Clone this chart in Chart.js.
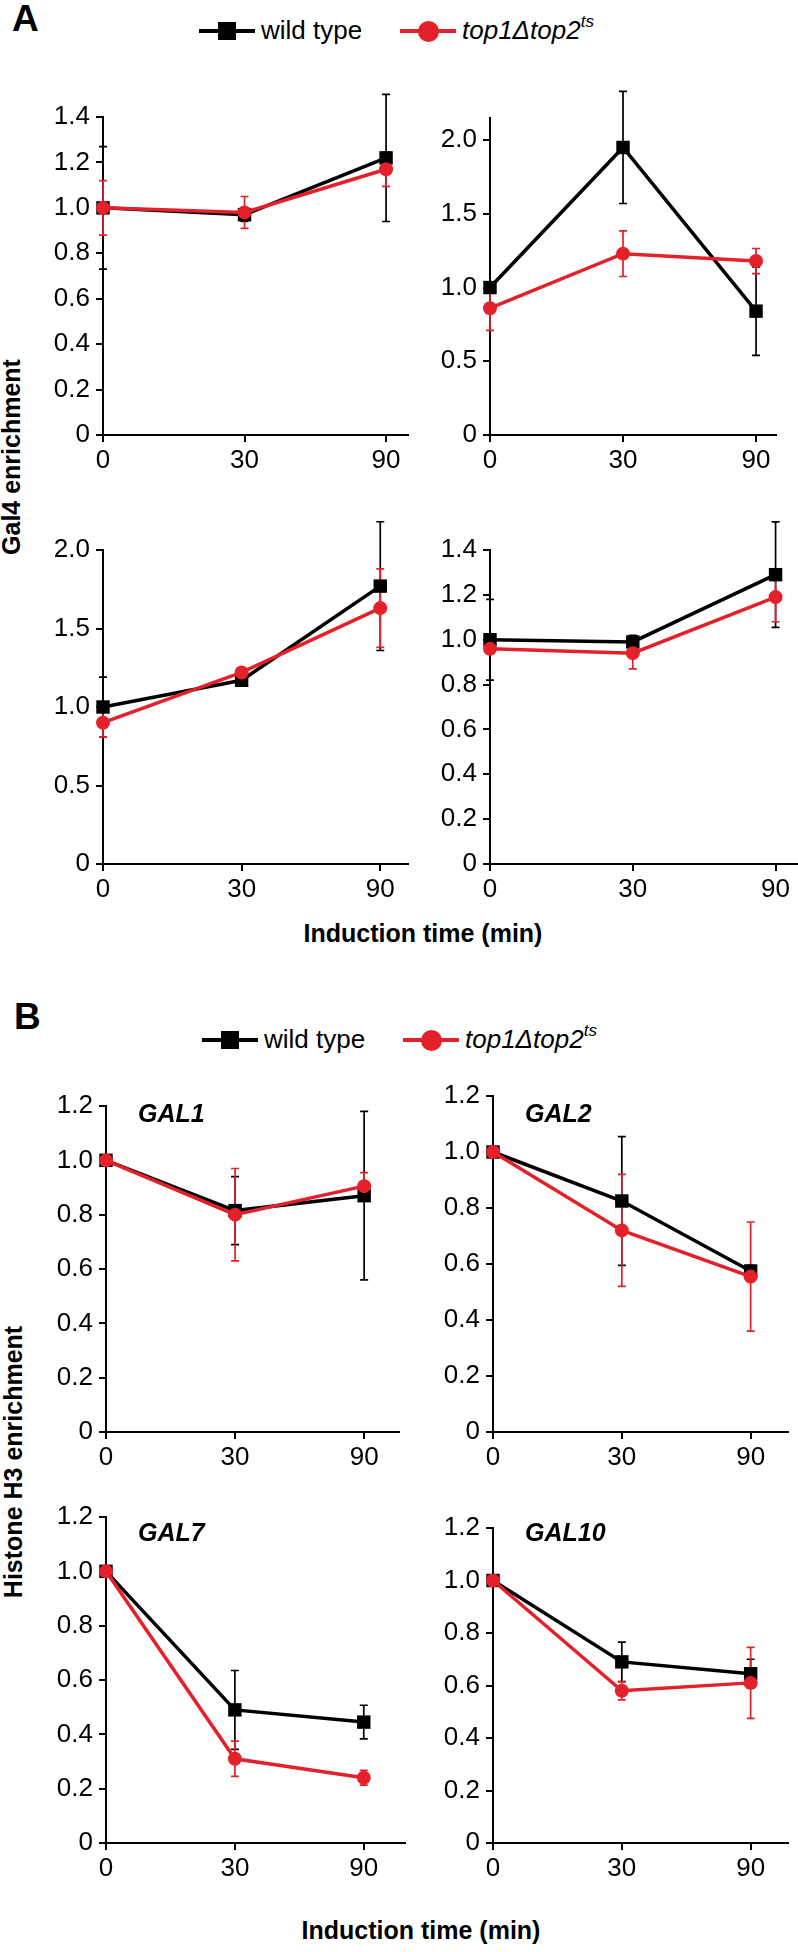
<!DOCTYPE html>
<html lang="en">
<head>
<meta charset="UTF-8" />
<title>Gal4 and histone H3 enrichment</title>
<script src="https://cdn.jsdelivr.net/npm/chart.js"></script>
<style>
  body {
    margin: 0;
    background: #fff;
    width: 798px;
    height: 1952px;
    position: relative;
    overflow: hidden;
    font-family: "Liberation Sans", Arial, sans-serif;
    color: #000;
  }
  canvas.panel { position: absolute; }
  .txt { position: absolute; white-space: nowrap; line-height: 1; }
  .letter { font-weight: bold; font-size: 37px; }
  .title { font-weight: bold; font-size: 25px; }
  .gene { font-weight: bold; font-style: italic; font-size: 25px; transform: translateY(-50%); }
  .legtxt { font-size: 26px; }
  .legtxt sup { font-size: 17px; vertical-align: 0; position: relative; top: -12px; }
  .ln { position: absolute; height: 4px; }
  .sq { position: absolute; width: 18px; height: 18px; background: #000; }
  .dot { position: absolute; width: 21px; height: 21px; border-radius: 50%; background: #e4202a; }
</style>
</head>
<body>
<div class="txt letter" style="left:12px; top:0px;">A</div>
<div class="txt letter" style="left:14px; top:998px;">B</div>

<div class="txt title" style="left:11px; top:457px; transform:translate(-50%,-50%) rotate(-90deg);">Gal4 enrichment</div>
<div class="txt title" style="left:13px; top:1462px; transform:translate(-50%,-50%) rotate(-90deg);">Histone H3 enrichment</div>
<div class="txt title" style="left:423px; top:933px; transform:translate(-50%,-50%);">Induction time (min)</div>
<div class="txt title" style="left:421px; top:1930px; transform:translate(-50%,-50%);">Induction time (min)</div>

<div id="legends"></div>
<div id="panels"></div>

<script>
// x categories (induction time, min)
const timeLabels = ['0', '30', '90'];
const seriesNames = ['wild type', 'top1\u0394top2'];

// y tick sets
const yTicksFine = [0, 0.2, 0.4, 0.6, 0.8, 1.0, 1.2, 1.4];
const yTicksCoarse = [0, 0.5, 1.0, 1.5, 2.0];
const yTicksH3 = [0, 0.2, 0.4, 0.6, 0.8, 1.0, 1.2];

// A: Gal4 enrichment
const a1Wt = [1.0, 0.97, 1.22];
const a1WtErr = [0.27, 0.03, 0.28];
const a1Mut = [1.0, 0.98, 1.17];
const a1MutErr = [0.12, 0.07, 0.075];

const a2Wt = [1.0, 1.95, 0.84];
const a2WtErr = [0.02, 0.38, 0.30];
const a2Mut = [0.86, 1.23, 1.18];
const a2MutErr = [0.15, 0.155, 0.085];

const a3Wt = [1.0, 1.17, 1.77];
const a3WtErr = [0.19, 0.02, 0.41];
const a3Mut = [0.90, 1.22, 1.63];
const a3MutErr = [0.09, 0.02, 0.25];

const a4Wt = [1.0, 0.99, 1.29];
const a4WtErr = [0.18, 0.03, 0.235];
const a4Mut = [0.96, 0.94, 1.19];
const a4MutErr = [0.02, 0.07, 0.11];

// B: histone H3 enrichment
const geneNames = ['GAL1', 'GAL2', 'GAL7', 'GAL10'];

const gal1Wt = [1.0, 0.815, 0.87];
const gal1WtErr = [0, 0.125, 0.31];
const gal1Mut = [1.0, 0.80, 0.905];
const gal1MutErr = [0, 0.17, 0.05];

const gal2Wt = [1.0, 0.825, 0.575];
const gal2WtErr = [0, 0.23, 0.02];
const gal2Mut = [1.0, 0.72, 0.555];
const gal2MutErr = [0, 0.20, 0.195];

const gal7Wt = [1.0, 0.49, 0.445];
const gal7WtErr = [0, 0.145, 0.062];
const gal7Mut = [1.0, 0.31, 0.24];
const gal7MutErr = [0, 0.065, 0.027];

const gal10Wt = [1.0, 0.69, 0.645];
const gal10WtErr = [0, 0.075, 0.055];
const gal10Mut = [1.0, 0.58, 0.61];
const gal10MutErr = [0, 0.035, 0.135];

const BLACK = '#000000';
const RED = '#e4202a';

// plot area of each panel on the page, plus axis limits
const panels = [
  { area: [103, 117, 408, 435], yMax: 1.4, xMax: 2.155, ticks: yTicksFine, wt: a1Wt, wtErr: a1WtErr, mut: a1Mut, mutErr: a1MutErr },
  { area: [490, 118, 776, 435], yMax: 2.15, xMax: 2.15, ticks: yTicksCoarse, wt: a2Wt, wtErr: a2WtErr, mut: a2Mut, mutErr: a2MutErr },
  { area: [103, 550, 408, 864], yMax: 2.0, xMax: 2.2, ticks: yTicksCoarse, wt: a3Wt, wtErr: a3WtErr, mut: a3Mut, mutErr: a3MutErr },
  { area: [490, 550, 797, 864], yMax: 1.4, xMax: 2.15, ticks: yTicksFine, wt: a4Wt, wtErr: a4WtErr, mut: a4Mut, mutErr: a4MutErr },
  { area: [106, 1106, 399, 1432], yMax: 1.2, xMax: 2.27, ticks: yTicksH3, wt: gal1Wt, wtErr: gal1WtErr, mut: gal1Mut, mutErr: gal1MutErr, gene: geneNames[0] },
  { area: [493, 1096, 788, 1432], yMax: 1.2, xMax: 2.29, ticks: yTicksH3, wt: gal2Wt, wtErr: gal2WtErr, mut: gal2Mut, mutErr: gal2MutErr, gene: geneNames[1] },
  { area: [106, 1517, 405, 1843], yMax: 1.2, xMax: 2.32, ticks: yTicksH3, wt: gal7Wt, wtErr: gal7WtErr, mut: gal7Mut, mutErr: gal7MutErr, gene: geneNames[2] },
  { area: [493, 1528, 788, 1843], yMax: 1.2, xMax: 2.29, ticks: yTicksH3, wt: gal10Wt, wtErr: gal10WtErr, mut: gal10Mut, mutErr: gal10MutErr, gene: geneNames[3] },
];

const YW = 80, XH = 45, PT = 40, PR = 15;

// vertical error bars with caps, drawn under the lines
const errorBars = {
  id: 'errorBars',
  beforeDatasetsDraw(chart) {
    const ctx = chart.ctx;
    const xs = chart.scales.x, ys = chart.scales.y;
    chart.data.datasets.forEach((ds) => {
      ctx.save();
      ctx.strokeStyle = ds.borderColor;
      ctx.lineWidth = 1.7;
      ds.data.forEach((pt, i) => {
        const e = ds.errors[i];
        if (!e) return;
        const x = xs.getPixelForValue(pt.x);
        const y1 = ys.getPixelForValue(pt.y + e);
        const y2 = ys.getPixelForValue(pt.y - e);
        ctx.beginPath();
        ctx.moveTo(x, y1); ctx.lineTo(x, y2);
        ctx.moveTo(x - 4, y1); ctx.lineTo(x + 4, y1);
        ctx.moveTo(x - 4, y2); ctx.lineTo(x + 4, y2);
        ctx.stroke();
      });
      ctx.restore();
    });
  }
};

const toPoints = (vals) => vals.map((v, i) => ({ x: i, y: v }));
const host = document.getElementById('panels');

panels.forEach((p) => {
  const [l, t, r, b] = p.area;
  const cv = document.createElement('canvas');
  cv.className = 'panel';
  cv.width = (r - l) + YW + PR;
  cv.height = (b - t) + PT + XH;
  cv.style.left = (l - YW) + 'px';
  cv.style.top = (t - PT) + 'px';
  host.appendChild(cv);

  new Chart(cv.getContext('2d'), {
    type: 'line',
    data: {
      datasets: [
        {
          label: seriesNames[0],
          data: toPoints(p.wt),
          errors: p.wtErr,
          borderColor: BLACK,
          backgroundColor: BLACK,
          borderWidth: 3.5,
          pointStyle: 'rect',
          pointRadius: 9.5,
          pointBorderWidth: 0,
          clip: false,
          order: 2,
        },
        {
          label: seriesNames[1],
          data: toPoints(p.mut),
          errors: p.mutErr,
          borderColor: RED,
          backgroundColor: RED,
          borderWidth: 3.5,
          pointStyle: 'circle',
          pointRadius: 7,
          pointBorderWidth: 0,
          clip: false,
          order: 1,
        },
      ],
    },
    options: {
      responsive: false,
      animation: false,
      layout: { padding: { left: 0, top: PT, right: PR, bottom: 0 } },
      plugins: { legend: { display: false }, tooltip: { enabled: false } },
      scales: {
        x: {
          type: 'linear',
          min: 0,
          max: p.xMax,
          afterFit: (s) => { s.height = XH; },
          afterBuildTicks: (s) => { s.ticks = timeLabels.map((_, i) => ({ value: i })); },
          ticks: {
            callback: (v) => timeLabels[v],
            color: BLACK,
            font: { family: 'Liberation Sans', size: 26 },
            padding: 3,
            maxRotation: 0,
            autoSkip: false,
          },
          grid: { drawOnChartArea: false, drawTicks: true, tickLength: 7, color: BLACK, lineWidth: 2 },
          border: { display: true, color: BLACK, width: 2 },
        },
        y: {
          min: 0,
          max: p.yMax,
          afterFit: (s) => { s.width = YW; },
          afterBuildTicks: (s) => { s.ticks = p.ticks.map((v) => ({ value: v })); },
          ticks: {
            callback: (v) => (v === 0 ? '0' : v.toFixed(1)),
            color: BLACK,
            font: { family: 'Liberation Sans', size: 26 },
            padding: 6,
          },
          grid: { drawOnChartArea: false, drawTicks: true, tickLength: 7, color: BLACK, lineWidth: 2 },
          border: { display: true, color: BLACK, width: 2 },
        },
      },
    },
    plugins: [errorBars],
  });

  if (p.gene) {
    const g = document.createElement('div');
    g.className = 'txt gene';
    g.textContent = p.gene;
    g.style.left = (l + 32) + 'px';
    g.style.top = (p.area[1] < 1500 ? 1113 : 1532) + 'px';
    host.appendChild(g);
  }
});

// legends (one above each figure part)
function addLegend(y, xWt, xMut) {
  const box = document.getElementById('legends');
  box.insertAdjacentHTML('beforeend',
    `<div class="ln" style="left:${xWt}px; top:${y - 2}px; width:56px; background:${BLACK};"></div>` +
    `<div class="sq" style="left:${xWt + 19}px; top:${y - 9}px;"></div>` +
    `<div class="txt legtxt" style="left:${xWt + 62}px; top:${y - 14}px;">${seriesNames[0]}</div>` +
    `<div class="ln" style="left:${xMut}px; top:${y - 2}px; width:56px; background:${RED};"></div>` +
    `<div class="dot" style="left:${xMut + 18}px; top:${y - 10}px;"></div>` +
    `<div class="txt legtxt" style="left:${xMut + 62}px; top:${y - 14}px;"><i>${seriesNames[1]}<sup>ts</sup></i></div>`);
}
addLegend(31, 199, 400);
addLegend(1040, 202, 403);
</script>
</body>
</html>
